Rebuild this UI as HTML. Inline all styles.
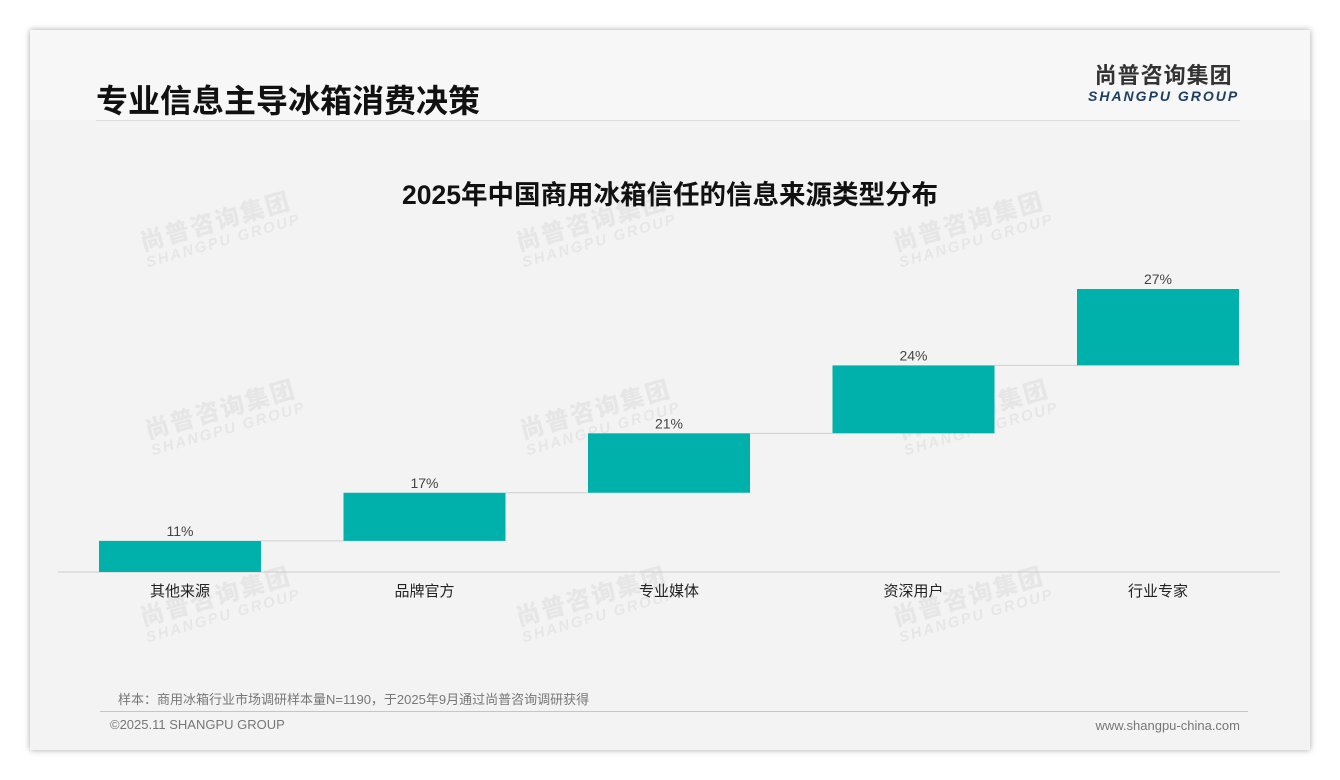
<!DOCTYPE html>
<html><head><meta charset="utf-8"><style>
body{margin:0;width:1340px;height:780px;background:#fff;font-family:"Liberation Sans","Noto Sans CJK SC",sans-serif;position:relative;overflow:hidden}
.card{position:absolute;left:30px;top:30px;width:1280px;height:720px;background:#f3f3f3;box-shadow:0 0 6px rgba(0,0,0,.35)}
.hdr{position:absolute;left:0;top:0;width:1280px;height:90px;background:#f7f7f7}
.wm{position:absolute;color:rgba(0,0,0,0.05);transform:rotate(-16deg);font-weight:bold;line-height:1}
.wm b{display:block;font-size:24px;letter-spacing:2px}
.wm i{display:block;font-size:15px;font-style:italic;letter-spacing:2px}
</style></head><body>
<div class="card">
<div class="hdr"></div>
</div>
<div style="position:absolute;left:96px;top:76px;font-size:32px;font-weight:bold;color:#111">专业信息主导冰箱消费决策</div>
<div style="position:absolute;left:1088px;top:64px;text-align:center">
<div style="font-size:22px;font-weight:bold;color:#333;letter-spacing:1px;line-height:24px">尚普咨询集团</div>
<div style="font-size:14px;font-weight:bold;font-style:italic;color:#1d3f63;letter-spacing:2px;line-height:16px">SHANGPU GROUP</div>
</div>
<div style="position:absolute;left:96px;top:120px;width:1144px;height:1px;background:#ddd"></div>
<div style="position:absolute;left:0;width:1340px;top:173px;text-align:center;font-size:26.5px;font-weight:bold;color:#111">2025年中国商用冰箱信任的信息来源类型分布</div>
<div class="wm" style="left:140px;top:210px"><b>尚普咨询集团</b><i>SHANGPU GROUP</i></div>
<div class="wm" style="left:516px;top:210px"><b>尚普咨询集团</b><i>SHANGPU GROUP</i></div>
<div class="wm" style="left:893px;top:210px"><b>尚普咨询集团</b><i>SHANGPU GROUP</i></div>
<div class="wm" style="left:145px;top:398px"><b>尚普咨询集团</b><i>SHANGPU GROUP</i></div>
<div class="wm" style="left:520px;top:398px"><b>尚普咨询集团</b><i>SHANGPU GROUP</i></div>
<div class="wm" style="left:898px;top:398px"><b>尚普咨询集团</b><i>SHANGPU GROUP</i></div>
<div class="wm" style="left:140px;top:585px"><b>尚普咨询集团</b><i>SHANGPU GROUP</i></div>
<div class="wm" style="left:516px;top:585px"><b>尚普咨询集团</b><i>SHANGPU GROUP</i></div>
<div class="wm" style="left:893px;top:585px"><b>尚普咨询集团</b><i>SHANGPU GROUP</i></div>
<svg id="chart" width="1340" height="780" style="position:absolute;left:0;top:0"></svg>
<div style="position:absolute;left:118px;top:689px;font-size:13px;color:#777">样本：商用冰箱行业市场调研样本量N=1190，于2025年9月通过尚普咨询调研获得</div>
<div style="position:absolute;left:100px;top:711px;width:1148px;height:1px;background:#b8c8d8"></div>
<div style="position:absolute;left:110px;top:717px;font-size:13px;color:#777">©2025.11 SHANGPU GROUP</div>
<div style="position:absolute;right:100px;top:718px;font-size:13px;color:#777">www.shangpu-china.com</div>
<script>
const categories=["其他来源","品牌官方","专业媒体","资深用户","行业专家"];
const values=[11,17,21,24,27];
const labels=["11%","17%","21%","24%","27%"];
const svg=document.getElementById('chart');
const NS='http://www.w3.org/2000/svg';
const base=572, scale=2.83, x0=180, step=244.5, bw=162;
const y=v=>base-v*scale;
const xc=i=>x0+i*step;
function mk(t,a){const e=document.createElementNS(NS,t);for(const k in a)e.setAttribute(k,a[k]);svg.appendChild(e);return e;}
const ax=mk('line',{x1:58,x2:1280,y1:base,y2:base,stroke:'#ccc','stroke-width':1});


let cum=0;
values.forEach((v,i)=>{
  const lo=cum, hi=cum+v; cum=hi;
  const r=mk('rect',{x:xc(i)-bw/2,y:y(hi),width:bw,height:y(lo)-y(hi),fill:'#00b0aa'});
  
  
  if(i<values.length-1){
    const c=mk('line',{x1:xc(i)+bw/2,x2:xc(i+1)-bw/2,y1:y(hi),y2:y(hi),stroke:'#d0d0d0','stroke-width':1});
    
    
  }
  const t=mk('text',{x:xc(i),y:y(hi)-5,'text-anchor':'middle','font-size':14,fill:'#444'});
  t.textContent=labels[i];
  
  
  const c2=mk('text',{x:xc(i),y:base+24,'text-anchor':'middle','font-size':15,fill:'#222'});
  c2.textContent=categories[i];
  
  
});
</script>
</body></html>
